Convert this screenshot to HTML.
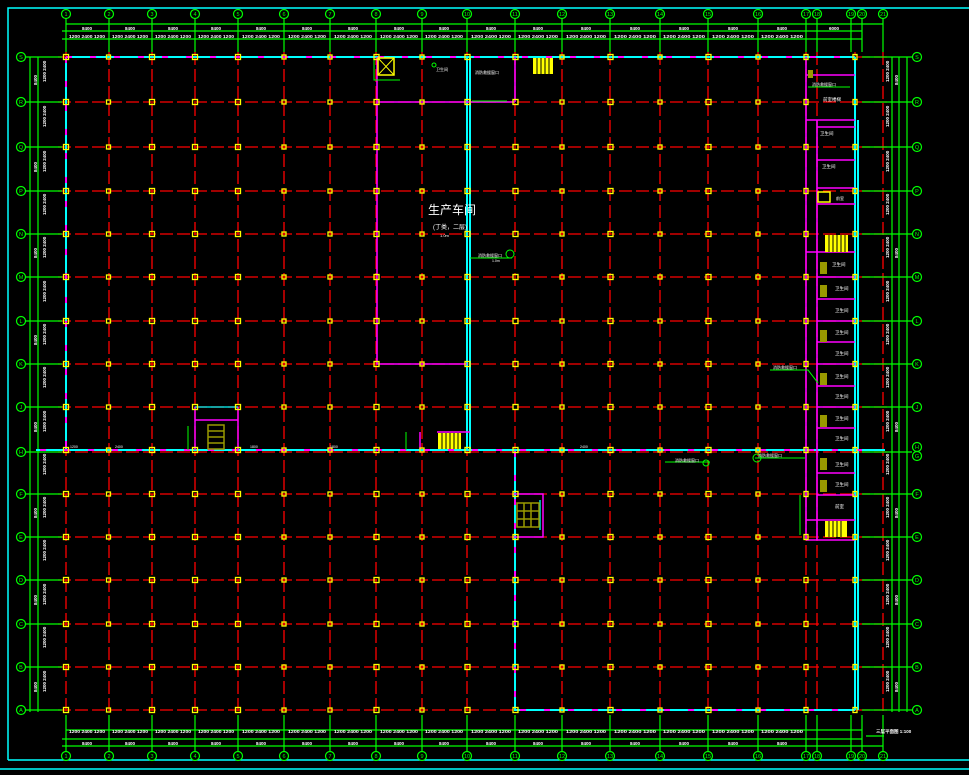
<!DOCTYPE html>
<html><head><meta charset="utf-8"><style>
html,body{margin:0;padding:0;background:#000;width:969px;height:775px;overflow:hidden}
svg{display:block}
text{font-family:"Liberation Sans","Noto Sans CJK SC",sans-serif}
</style></head><body>
<svg width="969" height="775" viewBox="0 0 969 775" xmlns="http://www.w3.org/2000/svg">
<defs>
<g id="yr" fill="none" stroke="#ffff00" stroke-width="1.3">
<rect x="63.5" y="-2.5" width="5" height="5"/><rect x="106.5" y="-2" width="4" height="4"/><rect x="149.5" y="-2.5" width="5" height="5"/><rect x="192.5" y="-2.5" width="5" height="5"/><rect x="235.5" y="-2.5" width="5" height="5"/><rect x="282" y="-2" width="4" height="4"/><rect x="328" y="-2" width="4" height="4"/><rect x="374" y="-2.5" width="5" height="5"/><rect x="420" y="-2" width="4" height="4"/><rect x="465" y="-2.5" width="5" height="5"/><rect x="513" y="-2.5" width="5" height="5"/><rect x="560" y="-2" width="4" height="4"/><rect x="608" y="-2.5" width="5" height="5"/><rect x="658" y="-2" width="4" height="4"/><rect x="706" y="-2.5" width="5" height="5"/><rect x="756" y="-2" width="4" height="4"/><rect x="804" y="-2.5" width="4" height="5"/><rect x="853" y="-2.5" width="4" height="5"/>
</g>
</defs>
<!-- frame -->
<g stroke="#00ffff" stroke-width="1.5" fill="none">
<path d="M8 760V8H969M8 760H969M0 769H969"/>
</g>
<!-- red grid -->
<g stroke="#ff0000" stroke-width="1.3" stroke-dasharray="13 4" fill="none">
<path d="M58 57H890M58 102H890M58 147H890M58 191H890M58 234H890M58 277H890M58 321H890M58 364H890M58 407H890M58 452H890M58 494H890M58 537H890M58 580H890M58 624H890M58 667H890M58 710H890"/>
<path d="M66 52V715M109 52V715M152 52V715M195 52V715M238 52V715M284 52V715M330 52V715M376 52V715M422 52V715M467 52V715M515 52V715M562 52V715M610 52V715M660 52V715M708 52V715M758 52V715M806 52V715M855 52V715M883 52V715M817 52V715"/>
</g>
<!-- green dims top -->
<g stroke="#00ff00" stroke-width="1.2" fill="none">
<path d="M66 24H883M62 31H862M62 39H862"/>
<path d="M66 18V52M109 18V52M152 18V52M195 18V52M238 18V52M284 18V52M330 18V52M376 18V52M422 18V52M467 18V52M515 18V52M562 18V52M610 18V52M660 18V52M708 18V52M758 18V52M806 18V52M817 18V52M851 18V52M862 18V52M883 18V52"/>
<path d="M66 730H862M62 739H862M62 746H883"/>
<path d="M66 715V752M109 715V752M152 715V752M195 715V752M238 715V752M284 715V752M330 715V752M376 715V752M422 715V752M467 715V752M515 715V752M562 715V752M610 715V752M660 715V752M708 715V752M758 715V752M806 715V752M817 715V752M851 715V752M862 715V752M883 715V752"/>
<path d="M30 57V712M38 57V712M26 57H62M26 102H62M26 147H62M26 191H62M26 234H62M26 277H62M26 321H62M26 364H62M26 407H62M26 452H62M26 494H62M26 537H62M26 580H62M26 624H62M26 667H62M26 710H62"/>
<path d="M892 57V712M899 57V712M907 57V712M862 57H912M862 102H912M862 147H912M862 191H912M862 234H912M862 277H912M862 321H912M862 364H912M862 407H912M862 452H912M862 494H912M862 537H912M862 580H912M862 624H912M862 667H912M862 710H912"/>
<path d="M866 736H884"/>
</g>
<!-- circles -->
<g stroke="#00ff00" stroke-width="1.2" fill="#000">
<circle cx="66" cy="14" r="4.5"/><circle cx="109" cy="14" r="4.5"/><circle cx="152" cy="14" r="4.5"/><circle cx="195" cy="14" r="4.5"/><circle cx="238" cy="14" r="4.5"/><circle cx="284" cy="14" r="4.5"/><circle cx="330" cy="14" r="4.5"/><circle cx="376" cy="14" r="4.5"/><circle cx="422" cy="14" r="4.5"/><circle cx="467" cy="14" r="4.5"/><circle cx="515" cy="14" r="4.5"/><circle cx="562" cy="14" r="4.5"/><circle cx="610" cy="14" r="4.5"/><circle cx="660" cy="14" r="4.5"/><circle cx="708" cy="14" r="4.5"/><circle cx="758" cy="14" r="4.5"/><circle cx="806" cy="14" r="4.5"/><circle cx="817" cy="14" r="4.5"/><circle cx="851" cy="14" r="4.5"/><circle cx="862" cy="14" r="4.5"/><circle cx="883" cy="14" r="4.5"/>
<circle cx="66" cy="756" r="4.5"/><circle cx="109" cy="756" r="4.5"/><circle cx="152" cy="756" r="4.5"/><circle cx="195" cy="756" r="4.5"/><circle cx="238" cy="756" r="4.5"/><circle cx="284" cy="756" r="4.5"/><circle cx="330" cy="756" r="4.5"/><circle cx="376" cy="756" r="4.5"/><circle cx="422" cy="756" r="4.5"/><circle cx="467" cy="756" r="4.5"/><circle cx="515" cy="756" r="4.5"/><circle cx="562" cy="756" r="4.5"/><circle cx="610" cy="756" r="4.5"/><circle cx="660" cy="756" r="4.5"/><circle cx="708" cy="756" r="4.5"/><circle cx="758" cy="756" r="4.5"/><circle cx="806" cy="756" r="4.5"/><circle cx="817" cy="756" r="4.5"/><circle cx="851" cy="756" r="4.5"/><circle cx="862" cy="756" r="4.5"/><circle cx="883" cy="756" r="4.5"/>
<circle cx="21" cy="57" r="4.5"/><circle cx="21" cy="102" r="4.5"/><circle cx="21" cy="147" r="4.5"/><circle cx="21" cy="191" r="4.5"/><circle cx="21" cy="234" r="4.5"/><circle cx="21" cy="277" r="4.5"/><circle cx="21" cy="321" r="4.5"/><circle cx="21" cy="364" r="4.5"/><circle cx="21" cy="407" r="4.5"/><circle cx="21" cy="452" r="4.5"/><circle cx="21" cy="494" r="4.5"/><circle cx="21" cy="537" r="4.5"/><circle cx="21" cy="580" r="4.5"/><circle cx="21" cy="624" r="4.5"/><circle cx="21" cy="667" r="4.5"/><circle cx="21" cy="710" r="4.5"/>
<circle cx="917" cy="57" r="4.5"/><circle cx="917" cy="102" r="4.5"/><circle cx="917" cy="147" r="4.5"/><circle cx="917" cy="191" r="4.5"/><circle cx="917" cy="234" r="4.5"/><circle cx="917" cy="277" r="4.5"/><circle cx="917" cy="321" r="4.5"/><circle cx="917" cy="364" r="4.5"/><circle cx="917" cy="407" r="4.5"/><circle cx="917" cy="447" r="4.5"/><circle cx="917" cy="456" r="4.5"/><circle cx="917" cy="494" r="4.5"/><circle cx="917" cy="537" r="4.5"/><circle cx="917" cy="580" r="4.5"/><circle cx="917" cy="624" r="4.5"/><circle cx="917" cy="667" r="4.5"/><circle cx="917" cy="710" r="4.5"/>
</g>
<g fill="#00ff00" font-size="5.5" text-anchor="middle">
<text x="66" y="16">1</text><text x="109" y="16">2</text><text x="152" y="16">3</text><text x="195" y="16">4</text><text x="238" y="16">5</text><text x="284" y="16">6</text><text x="330" y="16">7</text><text x="376" y="16">8</text><text x="422" y="16">9</text><text x="467" y="16">10</text><text x="515" y="16">11</text><text x="562" y="16">12</text><text x="610" y="16">13</text><text x="660" y="16">14</text><text x="708" y="16">15</text><text x="758" y="16">16</text><text x="806" y="16">17</text><text x="817" y="16">18</text><text x="851" y="16">19</text><text x="862" y="16">20</text><text x="883" y="16">21</text>
<text x="66" y="758">1</text><text x="109" y="758">2</text><text x="152" y="758">3</text><text x="195" y="758">4</text><text x="238" y="758">5</text><text x="284" y="758">6</text><text x="330" y="758">7</text><text x="376" y="758">8</text><text x="422" y="758">9</text><text x="467" y="758">10</text><text x="515" y="758">11</text><text x="562" y="758">12</text><text x="610" y="758">13</text><text x="660" y="758">14</text><text x="708" y="758">15</text><text x="758" y="758">16</text><text x="806" y="758">17</text><text x="817" y="758">18</text><text x="851" y="758">19</text><text x="862" y="758">20</text><text x="883" y="758">21</text>
<text x="21" y="59">S</text><text x="21" y="104">R</text><text x="21" y="149">Q</text><text x="21" y="193">P</text><text x="21" y="236">N</text><text x="21" y="279">M</text><text x="21" y="323">L</text><text x="21" y="366">K</text><text x="21" y="409">J</text><text x="21" y="454">H</text><text x="21" y="496">F</text><text x="21" y="539">E</text><text x="21" y="582">D</text><text x="21" y="626">C</text><text x="21" y="669">B</text><text x="21" y="712">A</text>
<text x="917" y="59">S</text><text x="917" y="104">R</text><text x="917" y="149">Q</text><text x="917" y="193">P</text><text x="917" y="236">N</text><text x="917" y="279">M</text><text x="917" y="323">L</text><text x="917" y="366">K</text><text x="917" y="409">J</text><text x="917" y="449">H</text><text x="917" y="458">G</text><text x="917" y="496">F</text><text x="917" y="539">E</text><text x="917" y="582">D</text><text x="917" y="626">C</text><text x="917" y="669">B</text><text x="917" y="712">A</text>
</g>
<!-- dim text -->
<g fill="#fff" font-size="4.5" font-weight="bold" text-anchor="middle">
<text x="87" y="30">8400</text><text x="130" y="30">8400</text><text x="173" y="30">8400</text><text x="216" y="30">8400</text><text x="261" y="30">8400</text><text x="307" y="30">8400</text><text x="353" y="30">8400</text><text x="399" y="30">8400</text><text x="444" y="30">8400</text><text x="491" y="30">8400</text><text x="538" y="30">8400</text><text x="586" y="30">8400</text><text x="635" y="30">8400</text><text x="684" y="30">8400</text><text x="733" y="30">8400</text><text x="782" y="30">8400</text><text x="834" y="30">6000</text>
<text x="87" y="38" textLength="36" lengthAdjust="spacingAndGlyphs">1200 2400 1200</text><text x="130" y="38" textLength="36" lengthAdjust="spacingAndGlyphs">1200 2400 1200</text><text x="173" y="38" textLength="36" lengthAdjust="spacingAndGlyphs">1200 2400 1200</text><text x="216" y="38" textLength="36" lengthAdjust="spacingAndGlyphs">1200 2400 1200</text><text x="261" y="38" textLength="38" lengthAdjust="spacingAndGlyphs">1200 2400 1200</text><text x="307" y="38" textLength="38" lengthAdjust="spacingAndGlyphs">1200 2400 1200</text><text x="353" y="38" textLength="38" lengthAdjust="spacingAndGlyphs">1200 2400 1200</text><text x="399" y="38" textLength="38" lengthAdjust="spacingAndGlyphs">1200 2400 1200</text><text x="444" y="38" textLength="38" lengthAdjust="spacingAndGlyphs">1200 2400 1200</text><text x="491" y="38" textLength="40" lengthAdjust="spacingAndGlyphs">1200 2400 1200</text><text x="538" y="38" textLength="40" lengthAdjust="spacingAndGlyphs">1200 2400 1200</text><text x="586" y="38" textLength="40" lengthAdjust="spacingAndGlyphs">1200 2400 1200</text><text x="635" y="38" textLength="42" lengthAdjust="spacingAndGlyphs">1200 2400 1200</text><text x="684" y="38" textLength="42" lengthAdjust="spacingAndGlyphs">1200 2400 1200</text><text x="733" y="38" textLength="42" lengthAdjust="spacingAndGlyphs">1200 2400 1200</text><text x="782" y="38" textLength="42" lengthAdjust="spacingAndGlyphs">1200 2400 1200</text>
<text x="87" y="733" textLength="36" lengthAdjust="spacingAndGlyphs">1200 2400 1200</text><text x="130" y="733" textLength="36" lengthAdjust="spacingAndGlyphs">1200 2400 1200</text><text x="173" y="733" textLength="36" lengthAdjust="spacingAndGlyphs">1200 2400 1200</text><text x="216" y="733" textLength="36" lengthAdjust="spacingAndGlyphs">1200 2400 1200</text><text x="261" y="733" textLength="38" lengthAdjust="spacingAndGlyphs">1200 2400 1200</text><text x="307" y="733" textLength="38" lengthAdjust="spacingAndGlyphs">1200 2400 1200</text><text x="353" y="733" textLength="38" lengthAdjust="spacingAndGlyphs">1200 2400 1200</text><text x="399" y="733" textLength="38" lengthAdjust="spacingAndGlyphs">1200 2400 1200</text><text x="444" y="733" textLength="38" lengthAdjust="spacingAndGlyphs">1200 2400 1200</text><text x="491" y="733" textLength="40" lengthAdjust="spacingAndGlyphs">1200 2400 1200</text><text x="538" y="733" textLength="40" lengthAdjust="spacingAndGlyphs">1200 2400 1200</text><text x="586" y="733" textLength="40" lengthAdjust="spacingAndGlyphs">1200 2400 1200</text><text x="635" y="733" textLength="42" lengthAdjust="spacingAndGlyphs">1200 2400 1200</text><text x="684" y="733" textLength="42" lengthAdjust="spacingAndGlyphs">1200 2400 1200</text><text x="733" y="733" textLength="42" lengthAdjust="spacingAndGlyphs">1200 2400 1200</text><text x="782" y="733" textLength="42" lengthAdjust="spacingAndGlyphs">1200 2400 1200</text>
<text x="87" y="745">8400</text><text x="130" y="745">8400</text><text x="173" y="745">8400</text><text x="216" y="745">8400</text><text x="261" y="745">8400</text><text x="307" y="745">8400</text><text x="353" y="745">8400</text><text x="399" y="745">8400</text><text x="444" y="745">8400</text><text x="491" y="745">8400</text><text x="538" y="745">8400</text><text x="586" y="745">8400</text><text x="635" y="745">8400</text><text x="684" y="745">8400</text><text x="733" y="745">8400</text><text x="782" y="745">8400</text>
<text x="876" y="733" text-anchor="start">三层平面图 1:100</text>
</g>
<g fill="#fff" font-size="4.5" font-weight="bold">
<text transform="translate(46,82) rotate(-90)">1200 2400</text><text transform="translate(46,127) rotate(-90)">1200 2400</text><text transform="translate(46,172) rotate(-90)">1200 2400</text><text transform="translate(46,215) rotate(-90)">1200 2400</text><text transform="translate(46,258) rotate(-90)">1200 2400</text><text transform="translate(46,302) rotate(-90)">1200 2400</text><text transform="translate(46,345) rotate(-90)">1200 2400</text><text transform="translate(46,388) rotate(-90)">1200 2400</text><text transform="translate(46,432) rotate(-90)">1200 2400</text><text transform="translate(46,475) rotate(-90)">1200 2400</text><text transform="translate(46,518) rotate(-90)">1200 2400</text><text transform="translate(46,561) rotate(-90)">1200 2400</text><text transform="translate(46,605) rotate(-90)">1200 2400</text><text transform="translate(46,648) rotate(-90)">1200 2400</text><text transform="translate(46,692) rotate(-90)">1200 2400</text>
<text transform="translate(37,85) rotate(-90)">8400</text><text transform="translate(37,172) rotate(-90)">8400</text><text transform="translate(37,258) rotate(-90)">8400</text><text transform="translate(37,345) rotate(-90)">8400</text><text transform="translate(37,432) rotate(-90)">8400</text><text transform="translate(37,518) rotate(-90)">8400</text><text transform="translate(37,605) rotate(-90)">8400</text><text transform="translate(37,692) rotate(-90)">8400</text>
<text transform="translate(889,82) rotate(-90)">1200 2400</text><text transform="translate(889,127) rotate(-90)">1200 2400</text><text transform="translate(889,172) rotate(-90)">1200 2400</text><text transform="translate(889,215) rotate(-90)">1200 2400</text><text transform="translate(889,258) rotate(-90)">1200 2400</text><text transform="translate(889,302) rotate(-90)">1200 2400</text><text transform="translate(889,345) rotate(-90)">1200 2400</text><text transform="translate(889,388) rotate(-90)">1200 2400</text><text transform="translate(889,432) rotate(-90)">1200 2400</text><text transform="translate(889,475) rotate(-90)">1200 2400</text><text transform="translate(889,518) rotate(-90)">1200 2400</text><text transform="translate(889,561) rotate(-90)">1200 2400</text><text transform="translate(889,605) rotate(-90)">1200 2400</text><text transform="translate(889,648) rotate(-90)">1200 2400</text><text transform="translate(889,692) rotate(-90)">1200 2400</text>
<text transform="translate(898,85) rotate(-90)">8400</text><text transform="translate(898,258) rotate(-90)">8400</text><text transform="translate(898,432) rotate(-90)">8400</text><text transform="translate(898,518) rotate(-90)">8400</text><text transform="translate(898,605) rotate(-90)">8400</text><text transform="translate(898,692) rotate(-90)">8400</text>
</g>
<!-- walls -->
<g fill="none" stroke-width="2">
<path stroke="#00ffff" d="M66 57H855M66 57V451M36 450H885M467 57V451M470 57V451M515 451V710H855M855 57V710M858 120V710"/>
<path stroke="#ff00ff" stroke-dasharray="6 18" d="M66 57H855M66 57V451M40 450H880M515 451V710H855"/>
<path stroke="#ff00ff" stroke-width="1.6" d="M377 57V364H467M377 102H515M515 57V102M806 57V540M817 120V540"/>
<path stroke="#ff00ff" stroke-width="1.5" d="M806 75H855M806 120H855M817 127H855M817 160H855M817 188H855M817 204H855M806 252H855M817 277H855M817 299H855M817 321H855M817 342H855M817 364H855M817 386H855M817 407H855M817 428H855M817 473H855M817 495H855M806 520H855M806 540H855"/>
<path stroke="#ff00ff" stroke-width="1.5" d="M195 407V450M238 407V450M195 420H238M513 494H543V537H513M437 432H470M420 432V450"/>
<path stroke="#00ffff" stroke-width="1.3" d="M195 407H238M540 500V530"/>
</g>
<!-- stairs -->
<g fill="#ffff00">
<rect x="533" y="58" width="20" height="16"/><rect x="825" y="235" width="23" height="17"/><rect x="825" y="521" width="22" height="16"/><rect x="438" y="433" width="23" height="16"/>
</g>
<g stroke="#000" stroke-width="1"><path d="M537 58V74M541 58V74M545 58V74M549 58V74M829 235V252M833 235V252M837 235V252M841 235V252M845 235V252M829 521V537M833 521V537M837 521V537M841 521V537M442 433V449M446 433V449M450 433V449M454 433V449M458 433V449"/></g>
<g fill="none" stroke="#999900" stroke-width="1.5">
<rect x="208" y="425" width="16" height="24"/><path d="M208 431H224M208 437H224M208 443H224"/>
<rect x="517" y="503" width="22" height="24"/><path d="M517 511H539M517 519H539M524 503V527M531 503V527"/>
</g>
<g fill="#999900"><rect x="820" y="262" width="7" height="12"/><rect x="820" y="285" width="7" height="12"/><rect x="820" y="330" width="7" height="12"/><rect x="820" y="373" width="7" height="12"/><rect x="820" y="415" width="7" height="12"/><rect x="820" y="458" width="7" height="12"/><rect x="820" y="480" width="7" height="12"/><rect x="808" y="70" width="5" height="8"/></g>
<rect x="378" y="58" width="16" height="17" fill="none" stroke="#ffff00" stroke-width="1.5"/>
<path d="M378 58L394 75M394 58L378 75" stroke="#ffff00" stroke-width="1"/>
<rect x="818" y="192" width="12" height="10" fill="none" stroke="#ffff00" stroke-width="1.5"/>
<!-- green leaders -->
<g fill="none" stroke="#00ff00" stroke-width="1">
<path d="M470 258H512M472 101H507M808 87H850M770 370H808L818 383M665 462H710M755 458H805"/>
<circle cx="510" cy="254" r="4"/><circle cx="434" cy="65" r="2"/><circle cx="757" cy="458" r="4"/><circle cx="706" cy="463" r="3"/>
<path d="M374 60V80H400M188 426V450M406 432V450M800 495V535"/>
</g>
<!-- yellow column squares -->
<use href="#yr" y="57"/><use href="#yr" y="102"/><use href="#yr" y="147"/><use href="#yr" y="191"/><use href="#yr" y="234"/><use href="#yr" y="277"/><use href="#yr" y="321"/><use href="#yr" y="364"/><use href="#yr" y="407"/><use href="#yr" y="450"/><use href="#yr" y="494"/><use href="#yr" y="537"/><use href="#yr" y="580"/><use href="#yr" y="624"/><use href="#yr" y="667"/><use href="#yr" y="710"/>
<!-- labels -->
<g fill="#fff">
<text x="428" y="214" font-size="12">生产车间</text>
<text x="433" y="229" font-size="6">(丁类，二层)</text>
<text x="440" y="237" font-size="4">1.0m</text>
<text x="478" y="257" font-size="4">消防救援窗口</text><text x="492" y="262" font-size="3.5">1.0m</text>
<text x="475" y="74" font-size="4">消防救援窗口</text>
<text x="436" y="71" font-size="4">卫生间</text>
<text x="812" y="86" font-size="4">消防救援窗口</text>
<text x="823" y="101" font-size="4.5">前室楼梯</text>
<text x="820" y="135" font-size="4.5">卫生间</text><text x="822" y="168" font-size="4.5">卫生间</text><text x="836" y="200" font-size="4">前室</text>
<text x="832" y="266" font-size="4.5">卫生间</text><text x="835" y="290" font-size="4.5">卫生间</text><text x="835" y="312" font-size="4.5">卫生间</text><text x="835" y="334" font-size="4.5">卫生间</text><text x="835" y="355" font-size="4.5">卫生间</text><text x="835" y="378" font-size="4.5">卫生间</text><text x="835" y="398" font-size="4.5">卫生间</text><text x="835" y="420" font-size="4.5">卫生间</text><text x="835" y="440" font-size="4.5">卫生间</text><text x="835" y="466" font-size="4.5">卫生间</text><text x="835" y="486" font-size="4.5">卫生间</text><text x="835" y="508" font-size="4.5">前室</text>
<text x="773" y="369" font-size="4">消防救援窗口</text>
<text x="675" y="462" font-size="4">消防救援窗口</text>
<text x="758" y="457" font-size="4">消防救援窗口</text>
<text x="70" y="448" font-size="3.5">1200</text><text x="115" y="448" font-size="3.5">2400</text><text x="250" y="448" font-size="3.5">1800</text><text x="330" y="448" font-size="3.5">1800</text><text x="580" y="448" font-size="3.5">2400</text>
</g>
</svg>
</body></html>
